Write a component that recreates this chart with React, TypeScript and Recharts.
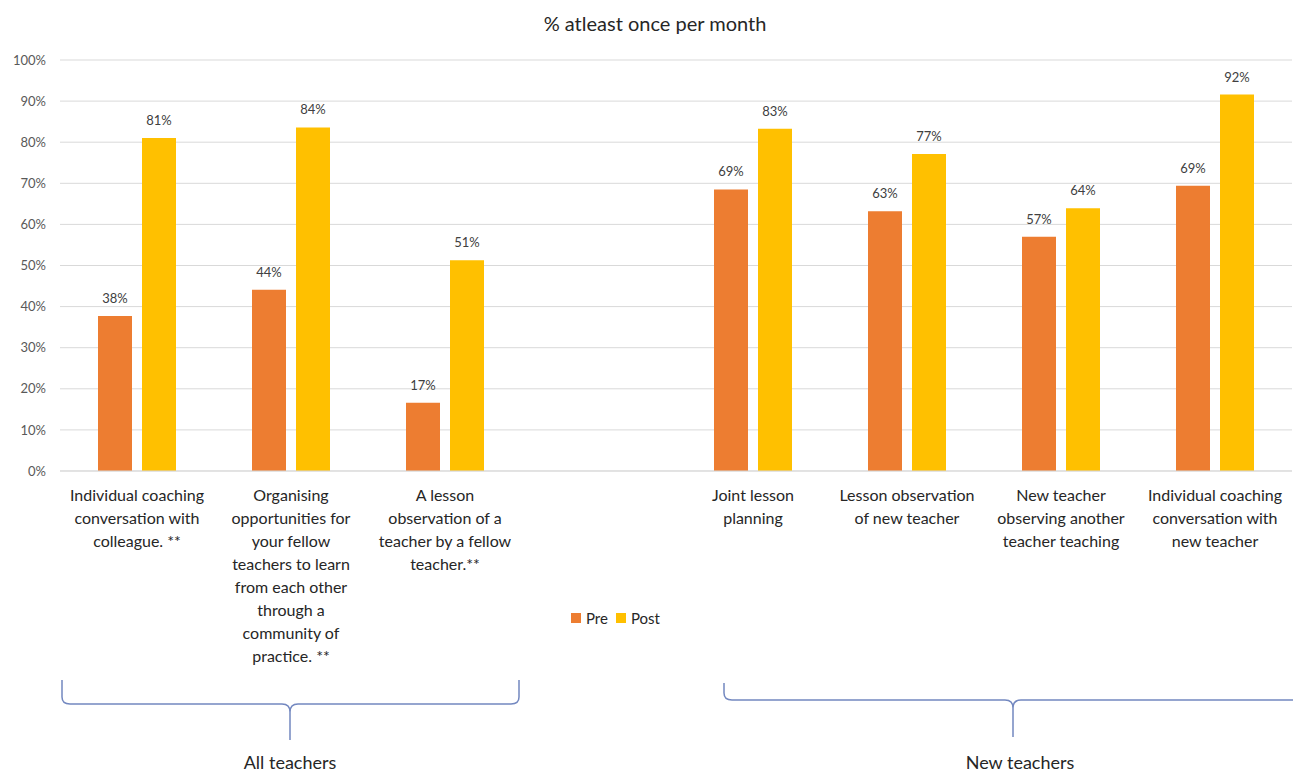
import { BarChart, Bar, XAxis, YAxis, CartesianGrid, Legend, LabelList } from 'recharts';

// categories (empty slot separates the two teacher groups)
const categories = [
  'Individual coaching\nconversation with\ncolleague. **',
  'Organising\nopportunities for\nyour fellow\nteachers to learn\nfrom each other\nthrough a\ncommunity of\npractice. **',
  'A lesson\nobservation of a\nteacher by a fellow\nteacher.**',
  ' ',
  'Joint lesson\nplanning',
  'Lesson observation\nof new teacher',
  'New teacher\nobserving another\nteacher teaching',
  'Individual coaching\nconversation with\nnew teacher',
];
const preValues = [37.7, 44.1, 16.6, null, 68.5, 63.2, 57.0, 69.4];
const postValues = [81.0, 83.6, 51.3, null, 83.3, 77.1, 63.9, 91.6];
const yTicks = [0, 10, 20, 30, 40, 50, 60, 70, 80, 90, 100];
const seriesNames = ['Pre', 'Post'];
const seriesColors = ['#ED7D31', '#FFC000'];

const data = categories.map((name, i) => ({ name, Pre: preValues[i], Post: postValues[i] }));

const FONT = 'Lato, "Open Sans", sans-serif';

const CategoryTick = ({ x, y, payload }: any) => {
  const lines = String(payload.value).split('\n');
  return (
    <text x={x} y={y} textAnchor="middle" fill="#262626" fontSize={16} fontFamily={FONT}>
      {lines.map((l, i) => (
        <tspan key={i} x={x} dy={i === 0 ? 22 : 23}>
          {l}
        </tspan>
      ))}
    </text>
  );
};

const LegendContent = () => (
  <div style={{ display: 'flex', alignItems: 'center', fontSize: 15, color: '#262626', fontFamily: FONT }}>
    {seriesNames.map((n, i) => (
      <span key={n} style={{ display: 'flex', alignItems: 'center', marginRight: 8 }}>
        <span style={{ width: 10, height: 10, background: seriesColors[i], marginRight: 5, display: 'inline-block' }} />
        {n}
      </span>
    ))}
  </div>
);

const pct = (v: any) => (v == null ? '' : `${Math.round(v)}%`);

export default function App() {
  return (
    <div style={{ position: 'relative', width: 1293, height: 774, background: '#fff', fontFamily: FONT }}>
      <style>{'body{margin:0}'}</style>
      <div
        style={{
          position: 'absolute',
          top: 11,
          left: 0,
          width: 1310,
          textAlign: 'center',
          fontSize: 20,
          color: '#262626',
        }}
      >
        % atleast once per month
      </div>
      <BarChart
        width={1293}
        height={774}
        data={data}
        margin={{ top: 60, right: 1, left: 0, bottom: 103 }}
        barSize={34}
        barGap={10}
      >
        <CartesianGrid vertical={false} stroke="#d9d9d9" />
        <XAxis
          dataKey="name"
          height={200}
          interval={0}
          tickLine={false}
          axisLine={{ stroke: '#d9d9d9' }}
          tick={<CategoryTick />}
        />
        <YAxis
          width={60}
          domain={[0, 100]}
          ticks={yTicks}
          tickFormatter={(v) => `${v}%`}
          tickLine={false}
          axisLine={false}
          tickMargin={8}
          tick={{ fill: '#595959', fontSize: 13, fontFamily: FONT }}
        />
        <Legend
          layout="horizontal"
          verticalAlign="middle"
          align="center"
          content={<LegendContent />}
          wrapperStyle={{ top: 609, left: 571, width: 120 }}
        />
        <Bar dataKey="Pre" fill={seriesColors[0]} isAnimationActive={false}>
          <LabelList dataKey="Pre" position="top" offset={13} formatter={pct} fill="#404040" fontSize={13} fontFamily={FONT} />
        </Bar>
        <Bar dataKey="Post" fill={seriesColors[1]} isAnimationActive={false}>
          <LabelList dataKey="Post" position="top" offset={13} formatter={pct} fill="#404040" fontSize={13} fontFamily={FONT} />
        </Bar>
      </BarChart>
      <svg
        width={1293}
        height={774}
        style={{ position: 'absolute', top: 0, left: 0, pointerEvents: 'none' }}
      >
        <g fill="none" stroke="#7388c0" strokeWidth={1.5}>
          <path d="M62 680 L62 697 Q62 704 70 704 L282 704 Q290 704 290 712 L290 740 M290 712 Q290 704 298 704 L511 704 Q519 704 519 697 L519 680" />
          <path d="M724 683 L724 693 Q724 700 732 700 L1005 700 Q1013 700 1013 708 L1013 737 M1013 708 Q1013 700 1021 700 L1293 700" />
        </g>
        <text x={290} y={769} textAnchor="middle" fontSize={18} fill="#262626" fontFamily={FONT}>
          All teachers
        </text>
        <text x={1020} y={769} textAnchor="middle" fontSize={18} fill="#262626" fontFamily={FONT}>
          New teachers
        </text>
      </svg>
    </div>
  );
}
